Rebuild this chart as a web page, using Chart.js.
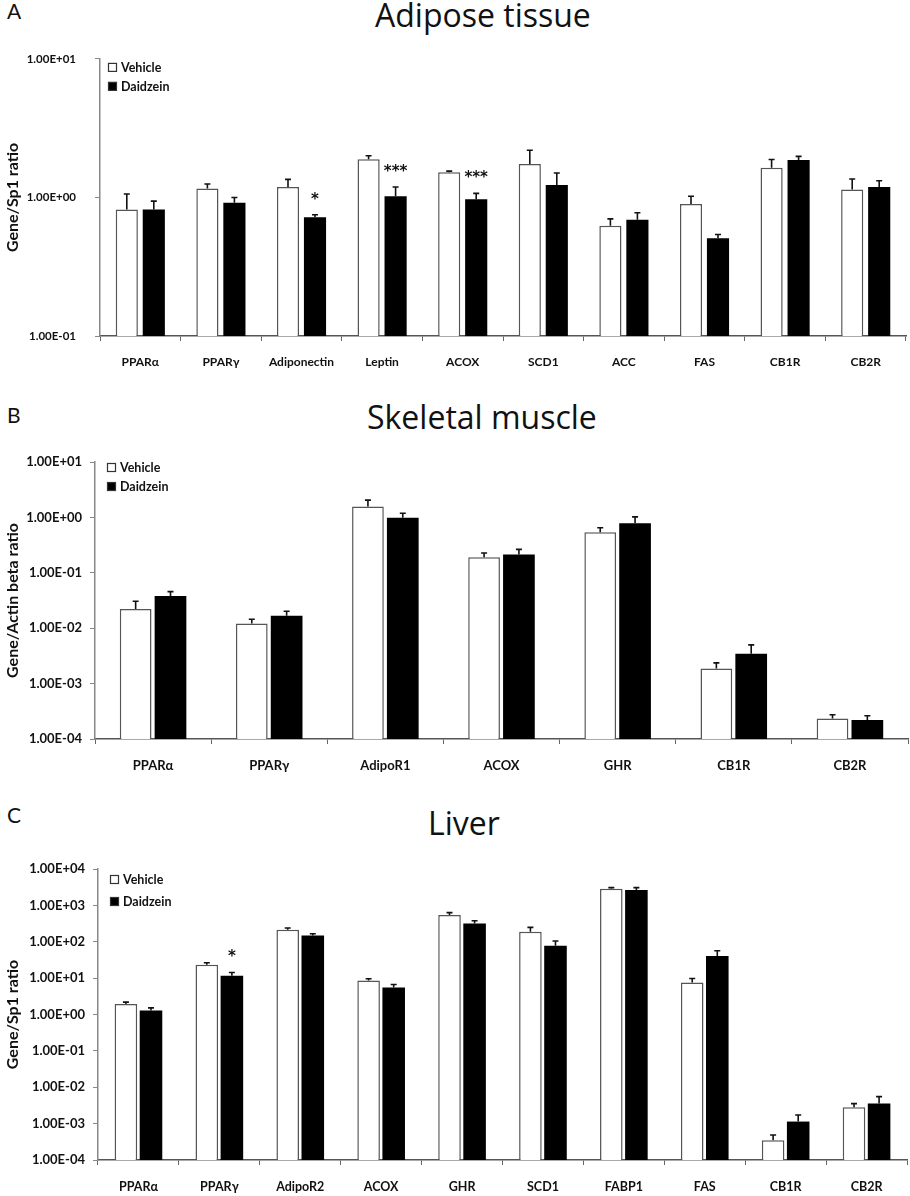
<!DOCTYPE html>
<html>
<head>
<meta charset="utf-8">
<script src="https://cdn.jsdelivr.net/npm/chart.js@4.4.1/dist/chart.umd.min.js"></script>
<style>
  body { margin: 0; background: #fff; }
  #page { position: relative; width: 910px; height: 1196px; font-family: Lato, sans-serif; color: #111; }
  .letter { position: absolute; left: 7px; font-size: 21px; }
  .title { position: absolute; font: 32px/1 "Open Sans", sans-serif; white-space: nowrap; }
  .box { position: absolute; left: 0; width: 910px; }
</style>
</head>
<body>
<div id="page">
  <div class="letter" style="top:-2px">A</div>
  <div class="title" style="left:375px;top:-1px">Adipose tissue</div>
  <div class="box" style="top:33px;height:345px"><canvas id="chartA"></canvas></div>

  <div class="letter" style="top:402px">B</div>
  <div class="title" style="left:367px;top:401px">Skeletal muscle</div>
  <div class="box" style="top:440px;height:341px"><canvas id="chartB"></canvas></div>

  <div class="letter" style="top:802px">C</div>
  <div class="title" style="left:428px;top:807px">Liver</div>
  <div class="box" style="top:845px;height:351px"><canvas id="chartC"></canvas></div>
</div>

<script>
// ---- A: adipose tissue (Gene/Sp1 ratio) ----
const genesA = ['PPARα', 'PPARγ', 'Adiponectin', 'Leptin', 'ACOX', 'SCD1', 'ACC', 'FAS', 'CB1R', 'CB2R']
const vehicleA = [0.82, 1.16, 1.19, 1.89, 1.52, 1.74, 0.625, 0.895, 1.64, 1.14]
const vehicleErrA = [1.06, 1.25, 1.35, 2.0, 1.55, 2.19, 0.70, 1.02, 1.88, 1.36]
const daidzeinA = [0.82, 0.916, 0.72, 1.02, 0.97, 1.23, 0.69, 0.507, 1.86, 1.19]
const daidzeinErrA = [0.94, 1.0, 0.75, 1.19, 1.07, 1.5, 0.776, 0.54, 1.98, 1.32]
const starsA = ['', '', '*', '***', '***', '', '', '', '', '']
const tickValuesA = [0.1, 1, 10]
const tickLabelsA = ['1.00E-01', '1.00E+00', '1.00E+01']

// ---- B: skeletal muscle (Gene/Actin beta ratio) ----
const genesB = ['PPARα', 'PPARγ', 'AdipoR1', 'ACOX', 'GHR', 'CB1R', 'CB2R']
const vehicleB = [0.0223, 0.0121, 1.58, 0.19, 0.537, 0.00187, 0.000235]
const vehicleErrB = [0.0306, 0.0145, 2.05, 0.228, 0.65, 0.00237, 0.000274]
const daidzeinB = [0.0382, 0.0167, 0.984, 0.215, 0.788, 0.00344, 0.00022]
const daidzeinErrB = [0.0457, 0.0202, 1.19, 0.265, 1.02, 0.005, 0.000263]
const starsB = ['', '', '', '', '', '', '']
const tickValuesB = [0.0001, 0.001, 0.01, 0.1, 1, 10]
const tickLabelsB = ['1.00E-04', '1.00E-03', '1.00E-02', '1.00E-01', '1.00E+00', '1.00E+01']

// ---- C: liver (Gene/Sp1 ratio) ----
const genesC = ['PPARα', 'PPARγ', 'AdipoR2', 'ACOX', 'GHR', 'SCD1', 'FABP1', 'FAS', 'CB1R', 'CB2R']
const vehicleC = [1.93, 23.3, 214, 8.63, 543, 189, 2877, 7.6, 0.000348, 0.00282]
const vehicleErrC = [2.19, 26.4, 238, 9.6, 630, 248, 3070, 9.8, 0.000488, 0.00355]
const daidzeinC = [1.29, 11.6, 149, 5.53, 319, 77.7, 2650, 40.4, 0.00114, 0.00355]
const daidzeinErrC = [1.52, 14.3, 166, 6.7, 378, 105, 3070, 56.6, 0.00173, 0.00553]
const starsC = ['', '*', '', '', '', '', '', '', '', '']
const tickValuesC = [0.0001, 0.001, 0.01, 0.1, 1, 10, 100, 1000, 10000]
const tickLabelsC = ['1.00E-04', '1.00E-03', '1.00E-02', '1.00E-01', '1.00E+00', '1.00E+01', '1.00E+02', '1.00E+03', '1.00E+04']

// whiskers (upper only) and significance stars
const errorBars = {
  id: 'errorBars',
  afterDatasetsDraw (chart) {
    const ctx = chart.ctx
    const y = chart.scales.y
    chart.data.datasets.forEach((ds, di) => {
      const meta = chart.getDatasetMeta(di)
      meta.data.forEach((bar, i) => {
        const top = y.getPixelForValue(ds.errTop[i])
        ctx.save()
        ctx.strokeStyle = '#111'
        ctx.lineWidth = 1.6
        ctx.beginPath()
        ctx.moveTo(bar.x, bar.y)
        ctx.lineTo(bar.x, top)
        ctx.moveTo(bar.x - 3, top)
        ctx.lineTo(bar.x + 3, top)
        ctx.stroke()
        if (ds.stars && ds.stars[i]) {
          ctx.fillStyle = '#111'
          ctx.font = 'bold 15px "DejaVu Sans"'
          ctx.textAlign = 'center'
          ctx.textBaseline = 'middle'
          ctx.fillText(ds.stars[i], bar.x, top - 15)
        }
        ctx.restore()
      })
    })
  }
}

// small legend sitting in the top-left corner of the plot
const insetLegend = {
  id: 'insetLegend',
  afterDraw (chart, args, opts) {
    const { ctx, chartArea } = chart
    ctx.save()
    ctx.font = 'bold 12.5px Lato'
    ctx.textBaseline = 'middle'
    ctx.textAlign = 'left'
    chart.data.datasets.forEach((ds, i) => {
      const x = chartArea.left + opts.dx
      const y = chartArea.top + opts.dy + i * opts.step
      ctx.fillStyle = ds.backgroundColor
      ctx.fillRect(x, y, 9, 9)
      ctx.strokeStyle = '#333'
      ctx.lineWidth = 1.2
      ctx.strokeRect(x + 0.5, y + 0.5, 8, 8)
      ctx.fillStyle = '#111'
      ctx.fillText(ds.label, x + 13, y + 5)
    })
    ctx.restore()
  }
}

function build (id, o) {
  const ctx = document.getElementById(id).getContext('2d')
  return new Chart(ctx, {
    type: 'bar',
    data: {
      labels: o.labels,
      datasets: [
        {
          label: 'Vehicle',
          data: o.vehicle,
          errTop: o.vehicleErr,
          backgroundColor: '#fff',
          borderColor: '#555',
          borderWidth: 1.5,
          barPercentage: o.barPct,
          categoryPercentage: o.catPct
        },
        {
          label: 'Daidzein',
          data: o.daidzein,
          errTop: o.daidzeinErr,
          stars: o.stars,
          backgroundColor: '#000',
          borderColor: '#000',
          borderWidth: 0,
          barPercentage: o.barPct,
          categoryPercentage: o.catPct
        }
      ]
    },
    options: {
      responsive: true,
      maintainAspectRatio: false,
      animation: false,
      layout: { padding: { top: o.padTop, right: o.padRight, left: 0, bottom: 0 } },
      scales: {
        x: {
          afterFit: s => { s.height = o.xHeight },
          grid: { drawOnChartArea: false, tickLength: 5, color: '#666', offset: true },
          border: { color: '#555', width: 1.5 },
          ticks: { color: '#111', padding: 14, font: { family: 'Lato', weight: 'bold', size: o.xFont }, maxRotation: 0 }
        },
        y: {
          type: 'logarithmic',
          min: o.ticksV[0],
          max: o.ticksV[o.ticksV.length - 1],
          afterFit: s => { s.width = o.yWidth },
          afterBuildTicks: s => { s.ticks = o.ticksV.map(v => ({ value: v })) },
          grid: { drawOnChartArea: false, tickLength: 5, color: '#888' },
          border: { color: '#888', width: 1.5 },
          ticks: {
            color: '#111',
            padding: o.yPad,
            font: { family: 'Lato', weight: 'bold', size: o.yFont },
            callback: (v, i) => o.ticksL[i]
          },
          title: {
            display: true,
            text: o.yTitle,
            color: '#111',
            padding: { top: 3, bottom: 0 },
            font: { family: 'Lato', weight: 'bold', size: o.yTitleFont }
          }
        }
      },
      plugins: {
        legend: { display: false },
        insetLegend: o.legend,
        title: { display: false },
        tooltip: { enabled: false }
      }
    },
    plugins: [errorBars, insetLegend]
  })
}

build('chartA', {
  labels: genesA, vehicle: vehicleA, vehicleErr: vehicleErrA, daidzein: daidzeinA, daidzeinErr: daidzeinErrA, stars: starsA,
  ticksV: tickValuesA, ticksL: tickLabelsA, yTitle: 'Gene/Sp1 ratio',
  barPct: 0.82, catPct: 0.67, padTop: 15, padRight: 4, xHeight: 42, yWidth: 100, yPad: 19,
  xFont: 12, yFont: 11.5, yTitleFont: 16, legend: { dx: 8, dy: 4, step: 19 }
})

build('chartB', {
  labels: genesB, vehicle: vehicleB, vehicleErr: vehicleErrB, daidzein: daidzeinB, daidzeinErr: daidzeinErrB, stars: starsB,
  ticksV: tickValuesB, ticksL: tickLabelsB, yTitle: 'Gene/Actin beta ratio',
  barPct: 0.91, catPct: 0.6, padTop: 22, padRight: 2, xHeight: 42, yWidth: 95, yPad: 8,
  xFont: 13, yFont: 13, yTitleFont: 16, legend: { dx: 12, dy: 1, step: 19 }
})

build('chartC', {
  labels: genesC, vehicle: vehicleC, vehicleErr: vehicleErrC, daidzein: daidzeinC, daidzeinErr: daidzeinErrC, stars: starsC,
  ticksV: tickValuesC, ticksL: tickLabelsC, yTitle: 'Gene/Sp1 ratio',
  barPct: 0.9, catPct: 0.62, padTop: 24, padRight: 3, xHeight: 36, yWidth: 98, yPad: 8,
  xFont: 12.5, yFont: 13, yTitleFont: 16, legend: { dx: 12, dy: 6, step: 22 }
})
</script>
</body>
</html>
